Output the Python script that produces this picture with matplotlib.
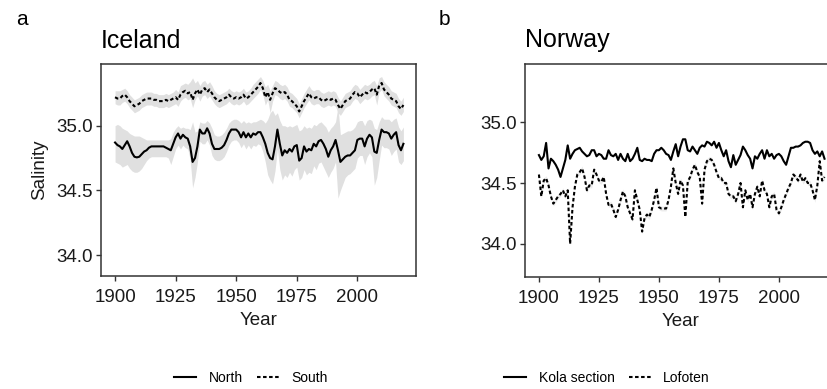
import matplotlib
matplotlib.use("Agg")
import matplotlib.pyplot as plt
import numpy as np

plt.rcParams['font.family'] = ['Liberation Sans', 'DejaVu Sans']

years = list(range(1900, 2020))

north = [34.87, 34.85, 34.84, 34.82, 34.85, 34.88, 34.84, 34.79, 34.76, 34.755,
         34.76, 34.78, 34.80, 34.81, 34.83, 34.84, 34.84, 34.84, 34.84, 34.84,
         34.84, 34.83, 34.82, 34.81, 34.86, 34.91, 34.94, 34.90, 34.93, 34.91,
         34.90, 34.84, 34.72, 34.75, 34.84, 34.97, 34.94, 34.94, 34.98, 34.94,
         34.86, 34.82, 34.82, 34.82, 34.83, 34.85, 34.89, 34.94, 34.97, 34.97,
         34.97, 34.95, 34.91, 34.95, 34.91, 34.94, 34.91, 34.94, 34.93, 34.95,
         34.95, 34.91, 34.86, 34.79, 34.75, 34.74, 34.84, 34.97, 34.86, 34.77,
         34.81, 34.79, 34.82, 34.80, 34.84, 34.85, 34.73, 34.75, 34.84, 34.80,
         34.82, 34.81, 34.86, 34.84, 34.88, 34.89, 34.86, 34.82, 34.76, 34.81,
         34.84, 34.89, 34.81, 34.72, 34.74, 34.76, 34.77, 34.77, 34.79, 34.81,
         34.89, 34.90, 34.90, 34.84, 34.90, 34.93, 34.91, 34.80, 34.79, 34.89,
         34.97, 34.95, 34.95, 34.94, 34.90, 34.93, 34.95, 34.85, 34.81, 34.86]

north_upper = [35.00, 35.01, 35.00, 34.98, 34.97,
               34.96, 34.94, 34.93, 34.92, 34.92, 34.92, 34.91,
               34.90, 34.89, 34.89, 34.89, 34.89, 34.89, 34.89, 34.89, 34.89, 34.89, 34.89,
               34.90, 34.95, 34.98, 35.00, 34.98, 34.99, 34.98, 34.98, 34.97,
               35.03, 34.95, 34.96,
               35.03, 35.02, 35.02, 35.04, 35.02, 34.98,
               34.93, 34.92, 34.92, 34.93, 34.95,
               34.98, 35.02, 35.04, 35.05, 35.05, 35.04, 35.02, 35.04, 35.02, 35.03,
               35.02, 35.03, 35.03, 35.04, 35.05, 35.04, 35.02,
               35.05, 35.10, 35.12, 35.08, 35.10, 35.04, 35.00,
               35.00, 34.99, 35.00, 34.99, 35.00, 35.01, 34.96, 34.97, 35.00, 34.98,
               34.99, 34.98, 35.01, 35.00, 35.02, 35.03, 35.01, 34.99, 34.95, 34.98, 35.00,
               35.03, 35.15, 34.93, 34.94, 34.95, 34.96, 34.96, 34.97, 34.99, 35.03,
               35.04, 35.04, 35.00, 35.04,
               35.05, 35.04, 34.98, 34.97, 35.03, 35.07, 35.05, 35.05, 35.05, 35.03,
               35.05, 35.06, 34.99, 34.96, 34.99]

north_lower = [34.72, 34.71, 34.70, 34.68, 34.69,
               34.70, 34.67, 34.65, 34.64, 34.64, 34.65, 34.67,
               34.70, 34.73, 34.75, 34.76, 34.76, 34.76, 34.76, 34.76, 34.76, 34.76, 34.75,
               34.70, 34.76, 34.82, 34.85, 34.82, 34.85, 34.83, 34.82, 34.74,
               34.52, 34.60, 34.72,
               34.88, 34.86, 34.86, 34.89, 34.85, 34.77,
               34.74, 34.73, 34.73, 34.74, 34.76,
               34.80, 34.85, 34.88, 34.89, 34.89, 34.87, 34.83, 34.86, 34.82, 34.85,
               34.82, 34.85, 34.84, 34.86, 34.85, 34.80, 34.72,
               34.62, 34.58, 34.55, 34.65, 34.82, 34.66, 34.58,
               34.62, 34.60, 34.64, 34.61, 34.66, 34.68, 34.58, 34.60, 34.66, 34.62,
               34.64, 34.63, 34.69, 34.66, 34.71, 34.72, 34.68, 34.64, 34.60, 34.64, 34.67,
               34.72, 34.44, 34.50, 34.55, 34.60, 34.62, 34.63, 34.65, 34.67, 34.75,
               34.77, 34.77, 34.70, 34.76,
               34.79, 34.76, 34.54, 34.60, 34.73, 34.85, 34.83, 34.83, 34.82, 34.77,
               34.80, 34.82, 34.72, 34.70, 34.73]

south = [35.22, 35.21, 35.21, 35.23, 35.24, 35.22, 35.19, 35.17, 35.15, 35.16,
         35.17, 35.19, 35.20, 35.21, 35.21, 35.21, 35.20, 35.20, 35.19, 35.19,
         35.19, 35.20, 35.19, 35.20, 35.21, 35.22, 35.20, 35.24, 35.26, 35.27,
         35.25, 35.26, 35.20, 35.25, 35.28, 35.24, 35.28, 35.29, 35.26, 35.28,
         35.25, 35.22, 35.20, 35.19, 35.20, 35.21, 35.22, 35.24, 35.22, 35.21,
         35.22, 35.21, 35.22, 35.24, 35.21, 35.22, 35.24, 35.26, 35.28, 35.30,
         35.33, 35.29, 35.22, 35.26, 35.20, 35.25, 35.29, 35.28, 35.26, 35.25,
         35.26, 35.24, 35.20, 35.19, 35.17, 35.15, 35.11, 35.15, 35.19, 35.22,
         35.25, 35.22, 35.21, 35.22, 35.22, 35.20, 35.19, 35.20, 35.21, 35.20,
         35.21, 35.20, 35.16, 35.13, 35.16, 35.19, 35.20, 35.21, 35.24, 35.26,
         35.25, 35.22, 35.24, 35.26, 35.25, 35.26, 35.28, 35.29, 35.24, 35.31,
         35.33, 35.28, 35.26, 35.24, 35.21, 35.20, 35.19, 35.15, 35.13, 35.16]

south_up = [0.05, 0.06, 0.06, 0.05, 0.05, 0.05, 0.05, 0.05, 0.05, 0.05,
            0.05, 0.05, 0.05, 0.05, 0.05, 0.05, 0.05, 0.05, 0.05, 0.05,
            0.05, 0.05, 0.05, 0.05, 0.05, 0.06, 0.06, 0.07, 0.06, 0.06,
            0.07, 0.08, 0.17, 0.08, 0.07, 0.07, 0.06, 0.06, 0.06, 0.06,
            0.06, 0.05, 0.05, 0.05, 0.05, 0.05, 0.05, 0.05, 0.05, 0.05,
            0.05, 0.05, 0.05, 0.05, 0.05, 0.05, 0.05, 0.06, 0.06, 0.06,
            0.05, 0.06, 0.08, 0.06, 0.07, 0.06, 0.06, 0.06, 0.06, 0.06,
            0.06, 0.06, 0.06, 0.06, 0.06, 0.06, 0.06, 0.06, 0.06, 0.06,
            0.06, 0.06, 0.06, 0.06, 0.06, 0.06, 0.06, 0.06, 0.06, 0.06,
            0.06, 0.06, 0.06, 0.06, 0.06, 0.06, 0.06, 0.06, 0.06, 0.06,
            0.06, 0.06, 0.06, 0.06, 0.06, 0.06, 0.06, 0.06, 0.07, 0.06,
            0.05, 0.06, 0.06, 0.06, 0.06, 0.06, 0.06, 0.06, 0.06, 0.06]

south_dn = [0.05, 0.05, 0.05, 0.05, 0.05, 0.05, 0.05, 0.05, 0.05, 0.05,
            0.05, 0.05, 0.05, 0.05, 0.05, 0.05, 0.05, 0.05, 0.05, 0.05,
            0.05, 0.05, 0.05, 0.05, 0.05, 0.05, 0.05, 0.05, 0.05, 0.05,
            0.05, 0.05, 0.06, 0.05, 0.05, 0.05, 0.05, 0.05, 0.05, 0.05,
            0.05, 0.05, 0.05, 0.05, 0.05, 0.05, 0.05, 0.05, 0.05, 0.05,
            0.05, 0.05, 0.05, 0.05, 0.05, 0.05, 0.05, 0.05, 0.05, 0.05,
            0.05, 0.05, 0.06, 0.06, 0.10, 0.06, 0.05, 0.05, 0.05, 0.05,
            0.05, 0.05, 0.05, 0.05, 0.05, 0.05, 0.05, 0.05, 0.05, 0.05,
            0.05, 0.05, 0.05, 0.05, 0.05, 0.05, 0.05, 0.05, 0.05, 0.05,
            0.05, 0.05, 0.06, 0.05, 0.05, 0.05, 0.05, 0.05, 0.05, 0.05,
            0.05, 0.05, 0.05, 0.05, 0.05, 0.05, 0.05, 0.05, 0.08, 0.05,
            0.05, 0.05, 0.05, 0.05, 0.05, 0.05, 0.05, 0.05, 0.05, 0.05]

kola = [34.73, 34.69, 34.72, 34.83, 34.62, 34.70, 34.68, 34.65, 34.61, 34.55,
        34.62, 34.69, 34.81, 34.70, 34.74, 34.77, 34.78, 34.79, 34.76, 34.74,
        34.72, 34.73, 34.77, 34.77, 34.72, 34.74, 34.73, 34.70, 34.70, 34.77,
        34.73, 34.72, 34.74, 34.69, 34.74, 34.70, 34.68, 34.74, 34.68, 34.70,
        34.74, 34.79, 34.69, 34.68, 34.70, 34.69, 34.69, 34.68, 34.74, 34.77,
        34.77, 34.79, 34.77, 34.74, 34.73, 34.69, 34.76, 34.82, 34.72, 34.80,
        34.86, 34.86, 34.77, 34.76, 34.80, 34.77, 34.74, 34.79, 34.81, 34.80,
        34.84, 34.83, 34.81, 34.84, 34.79, 34.83, 34.77, 34.72, 34.77, 34.68,
        34.63, 34.73, 34.65, 34.69, 34.73, 34.80, 34.77, 34.73, 34.70, 34.62,
        34.72, 34.70, 34.74, 34.77, 34.70, 34.77, 34.72, 34.74, 34.70, 34.73,
        34.74, 34.72, 34.68, 34.65, 34.72, 34.79, 34.79, 34.80, 34.80, 34.81,
        34.83, 34.84, 34.84, 34.83, 34.77, 34.74, 34.76, 34.72, 34.76, 34.70]

lofoten = [34.57, 34.39, 34.52, 34.54, 34.48, 34.39, 34.33, 34.36, 34.39, 34.41,
           34.44, 34.39, 34.44, 34.00, 34.30, 34.47, 34.57, 34.59, 34.62, 34.55,
           34.44, 34.48, 34.48, 34.61, 34.57, 34.52, 34.51, 34.55, 34.41, 34.32,
           34.33, 34.28, 34.22, 34.28, 34.36, 34.43, 34.39, 34.30, 34.25, 34.20,
           34.44, 34.36, 34.28, 34.10, 34.21, 34.24, 34.22, 34.28, 34.36, 34.46,
           34.30, 34.29, 34.29, 34.29, 34.36, 34.47, 34.62, 34.50, 34.41, 34.52,
           34.48, 34.22, 34.51, 34.55, 34.61, 34.65, 34.59, 34.55, 34.33, 34.61,
           34.68, 34.70, 34.69, 34.65, 34.59, 34.54, 34.54, 34.50, 34.50, 34.41,
           34.39, 34.39, 34.35, 34.41, 34.50, 34.30, 34.44, 34.36, 34.41, 34.30,
           34.41, 34.47, 34.39, 34.52, 34.44, 34.41, 34.30, 34.39, 34.41, 34.28,
           34.25, 34.30, 34.36, 34.41, 34.46, 34.50, 34.57, 34.55, 34.52, 34.57,
           34.51, 34.54, 34.50, 34.50, 34.44, 34.36, 34.48, 34.68, 34.52, 34.55]
lofoten_spread = 0.02

ticks_x = [1900, 1925, 1950, 1975, 2000]
ticks_y = [34.0, 34.5, 35.0]

W, H = 828, 389
fig = plt.figure(figsize=(W / 100, H / 100), dpi=100)

ax1 = fig.add_axes([101 / W, 1 - 276 / H, 315 / W, 212 / H])
ax2 = fig.add_axes([525 / W, 1 - 277 / H, 312 / W, 213 / H])

band = '#e0e0e0'
yrs = np.array(years)
lw = 1.5
dash = (1.7, 1.2)

ax1.fill_between(yrs, north_lower, north_upper, color=band, lw=0)
ax1.fill_between(yrs, np.array(south) - np.array(south_dn),
                 np.array(south) + np.array(south_up), color=band, lw=0)
l_n, = ax1.plot(yrs, north, color='black', lw=lw, label='North')
l_s, = ax1.plot(yrs, south, color='black', lw=lw, ls=(0, dash), label='South')

ax2.fill_between(yrs, np.array(lofoten) - lofoten_spread,
                 np.array(lofoten) + lofoten_spread, color='#ececec', lw=0)
l_k, = ax2.plot(yrs, kola, color='black', lw=lw, label='Kola section')
l_l, = ax2.plot(yrs, lofoten, color='black', lw=lw, ls=(0, dash), label='Lofoten')

ax1.set_xlim(1894.2, 2024.2)
ax1.set_ylim(33.838, 35.477)
ax2.set_xlim(1894.2, 2024.2)
ax2.set_ylim(33.726, 35.48)

for ax in (ax1, ax2):
    ax.set_xticks(ticks_x)
    ax.set_yticks(ticks_y)
    ax.set_yticklabels([f'{v:.1f}' for v in ticks_y])
    ax.tick_params(axis='both', labelsize=13.5, length=3.6, width=1.0,
                   color='#333333', labelcolor='#1a1a1a')
    ax.tick_params(axis='x', pad=5.5)
    ax.tick_params(axis='y', pad=2.2)
    for s in ax.spines.values():
        s.set_color('#333333')
        s.set_linewidth(1.1)
    ax.set_xlabel('Year', fontsize=13.5, labelpad=4.5, color='#1a1a1a')

ax1.set_ylabel('Salinity', fontsize=13.5, labelpad=6, color='#1a1a1a')

fig.text(101 / W, 1 - 48 / H, 'Iceland', fontsize=18, ha='left', va='baseline')
fig.text(525 / W, 1 - 47 / H, 'Norway', fontsize=18, ha='left', va='baseline')
fig.text(16 / W, 1 - 25 / H, 'a', fontsize=15, ha='left', va='baseline')
fig.text(439 / W, 1 - 25 / H, 'b', fontsize=15, ha='left', va='baseline')

leg_kw = dict(ncol=2, frameon=False, fontsize=10, handlelength=1.6,
              handletextpad=0.9, columnspacing=1.0, loc='center')
fig.legend(handles=[l_n, l_s], bbox_to_anchor=(251 / W, 1 - 378 / H), **leg_kw)
fig.legend(handles=[l_k, l_l], bbox_to_anchor=(607 / W, 1 - 378 / H), **leg_kw)

fig.savefig('out.png', dpi=100)
